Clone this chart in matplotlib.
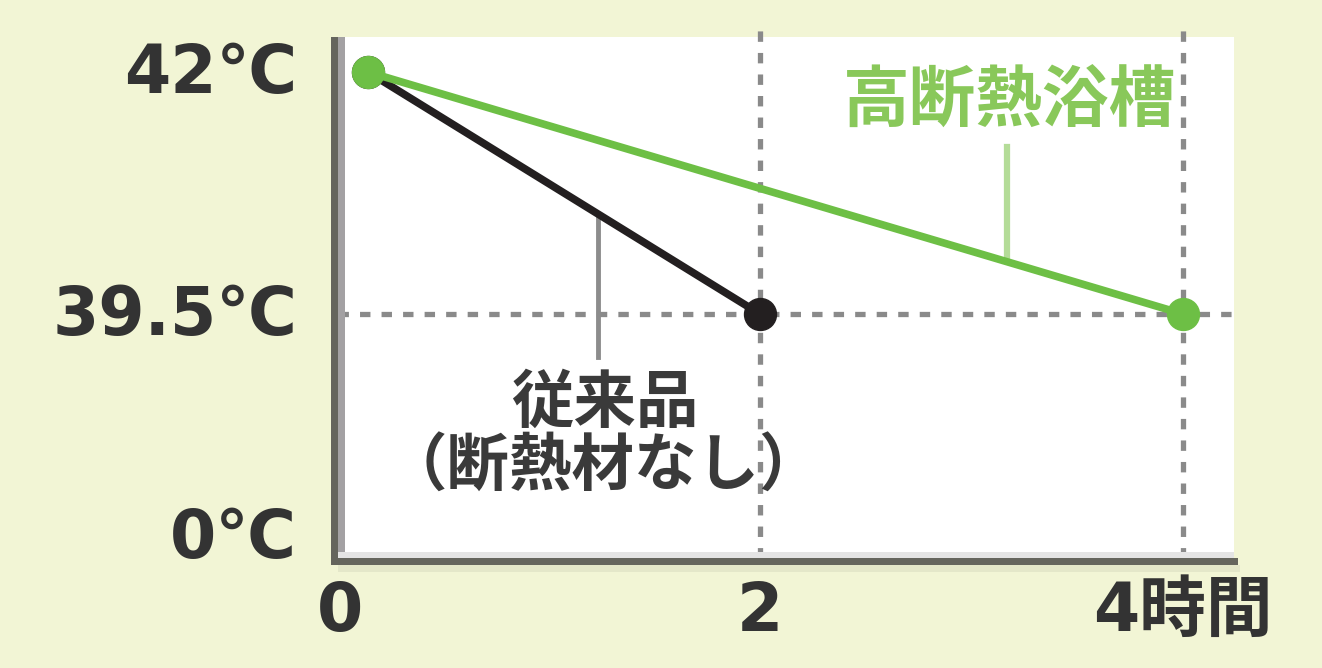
import numpy as np
import matplotlib
matplotlib.use("Agg")
import matplotlib.pyplot as plt
from matplotlib.transforms import ScaledTranslation
from matplotlib.patches import Rectangle
from matplotlib.lines import Line2D

# ---------------- data ----------------
hour_ticks = [0, 2, 4]
hour_labels = ["0", "2", "4時間"]
temp_ticks = [0, 39.5, 42]
temp_labels = ["0℃", "39.5℃", "42℃"]

conv_hours = [0, 2]          # 従来品（断熱材なし）
conv_temp = [42, 39.5]
insul_hours = [0, 4]         # 高断熱浴槽
insul_temp = [42, 39.5]

conv_name = "従来品"
conv_note = "（断熱材なし）"
insul_name = "高断熱浴槽"

# ---------------- layout ----------------
W, H = 1322, 668
BG = "#f2f5d5"
plt.rcParams["lines.scale_dashes"] = False
JP = ["Noto Sans CJK JP", "DejaVu Sans"]
NUM = ["DejaVu Sans", "Noto Sans CJK JP"]


def fx(px):
    return px / W


def fy(py):
    return 1 - py / H


def piecewise(vals, pos):
    vals = np.asarray(vals, float)
    pos = np.asarray(pos, float)

    def mk(a, b):
        s0 = (b[1] - b[0]) / (a[1] - a[0])
        s1 = (b[-1] - b[-2]) / (a[-1] - a[-2])

        def f(v):
            v = np.asarray(v, float)
            out = np.interp(v, a, b)
            out = np.where(v < a[0], b[0] + (v - a[0]) * s0, out)
            out = np.where(v > a[-1], b[-1] + (v - a[-1]) * s1, out)
            return out
        return f
    return mk(vals, pos), mk(pos, vals)


# axis breaks (non-linear schematic axes), in pixel positions
xf, xi = piecewise(hour_ticks, [368, 760, 1183])
yf, yi = piecewise(temp_ticks, [-537, -314, -72])

fig = plt.figure(figsize=(W / 100, H / 100), dpi=100, facecolor=BG)
L, R, T, B = 338, 1234, 37, 558
ax = fig.add_axes([fx(L), fy(B), (R - L) / W, (B - T) / H])
ax.set_facecolor("white")
ax.set_xscale("function", functions=(xf, xi))
ax.set_yscale("function", functions=(yf, yi))
ax.set_xlim(float(xi(L)), float(xi(R)))
ax.set_ylim(float(yi(-B)), float(yi(-T)))
for s in ax.spines.values():
    s.set_visible(False)

# dotted guide lines
dot = dict(color="#8a8a8a", lw=3.8, dashes=(7.5, 8), zorder=1, clip_on=False)
ax.axhline(temp_ticks[1], xmin=0, xmax=1 + 6 / (R - L), **dot)
for h in hour_ticks[1:]:
    ax.axvline(h, ymin=0, ymax=1 + 15 / (B - T), **dot)

# data lines
ax.plot(conv_hours, conv_temp, color="#231f20", lw=5.5, marker="o", ms=23,
        solid_capstyle="butt", clip_on=False, zorder=4)
ax.plot(insul_hours, insul_temp, color="#6dbf45", lw=5.5, marker="o", ms=23,
        solid_capstyle="butt", clip_on=False, zorder=5)

# leader lines
ax.add_artist(Line2D([fx(598)] * 2, [fy(216), fy(357)], transform=fig.transFigure,
                     color="#8c8c8c", lw=3.5, zorder=3))
ax.add_artist(Line2D([fx(1007)] * 2, [fy(147), fy(258)], transform=fig.transFigure,
                     color="#b4dc98", lw=4.5, zorder=3))

# ticks
ax.tick_params(length=0, pad=29.5, axis="y")
ax.tick_params(length=0, pad=15, axis="x")
ax.set_yticks(temp_ticks, labels=temp_labels, fontsize=48, fontweight="bold",
              color="#333333", family=NUM)
ax.set_xticks(hour_ticks, labels=hour_labels, fontsize=48, fontweight="bold",
              color="#333333", family=NUM)
ax.minorticks_off()
lab0 = ax.get_xticklabels()[0]
lab0.set_transform(lab0.get_transform() + ScaledTranslation(-28 / 100, 0, fig.dpi_scale_trans))
for lab in ax.get_yticklabels():
    lab.set_transform(lab.get_transform() + ScaledTranslation(0, 5 / 100, fig.dpi_scale_trans))

# annotation texts
fig.text(fx(605), fy(403), conv_name, ha="center", va="center", fontsize=45,
         fontweight="bold", color="#3a3a3a", family=JP)
fig.text(fx(603), fy(467), conv_note, ha="center", va="center", fontsize=45,
         fontweight="bold", color="#3a3a3a", family=JP)
fig.text(fx(1009), fy(101), insul_name, ha="center", va="center", fontsize=48,
         fontweight="bold", color="#89c85a", family=JP)

# frame (axis bars with shading)
def rect(x0, y0, x1, y1, c):
    fig.add_artist(Rectangle((fx(x0), fy(y1)), (x1 - x0) / W, (y1 - y0) / H,
                             transform=fig.transFigure, color=c, lw=0, zorder=6))

rect(338, 552, 1234, 558, "#e4e4e4")
rect(338, 37, 345, 552, "#a3a1a3")
rect(331, 37, 338, 565, "#65655d")
rect(331, 558, 1238, 565, "#65655d")
rect(338, 565, 1240, 572, "#e4e7c9")

fig.savefig("out.png", dpi=100, facecolor=BG)
